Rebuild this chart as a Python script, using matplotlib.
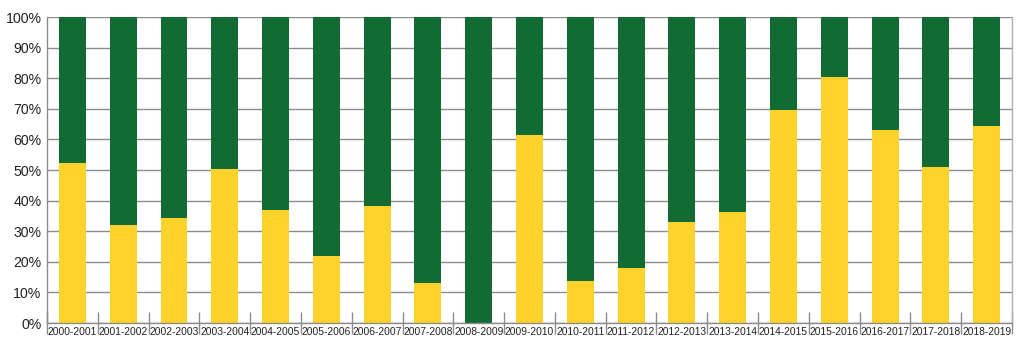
import numpy as np
import matplotlib.pyplot as plt
from matplotlib.ticker import FixedLocator, PercentFormatter

plt.rcParams['font.family'] = ['Liberation Sans', 'DejaVu Sans']

# Seasons and share (%) of the yellow part; green fills up to 100%
seasons = ['2000-2001', '2001-2002', '2002-2003', '2003-2004', '2004-2005',
           '2005-2006', '2006-2007', '2007-2008', '2008-2009', '2009-2010',
           '2010-2011', '2011-2012', '2012-2013', '2013-2014', '2014-2015',
           '2015-2016', '2016-2017', '2017-2018', '2018-2019']
yellow_share = [52.3, 32, 34.2, 50.2, 37, 21.8, 38.2, 13, 0, 61.4,
                13.8, 18, 33, 36.3, 69.5, 80.4, 63, 51, 64.4]
green_share = [100 - v for v in yellow_share]

yellow = '#FDD22A'
green = '#136B34'

fig = plt.figure(figsize=(10.24, 3.55), dpi=100)
ax = fig.add_axes([0.0459, 0.0901, 0.9424, 0.8619])

x = np.arange(len(seasons))
ax.bar(x, yellow_share, width=0.53, color=yellow, zorder=2)
ax.bar(x, green_share, width=0.53, bottom=yellow_share, color=green, zorder=2)

ax.set_xlim(-0.5, len(seasons) - 0.5)
ax.set_ylim(0, 100)
ax.set_yticks(np.arange(0, 101, 10))
ax.yaxis.set_major_formatter(PercentFormatter(decimals=0))
ax.grid(axis='y', color='#8c8c8c', linewidth=1.0, zorder=0)
ax.set_axisbelow(True)

# category labels centred, separators as minor ticks at boundaries
ax.set_xticks(x)
ax.set_xticklabels(seasons, fontsize=7.4, color='#222222')
ax.xaxis.set_minor_locator(FixedLocator(np.arange(-0.5, len(seasons), 1)))
ax.tick_params(axis='x', which='major', length=0, pad=3)
ax.tick_params(axis='x', which='minor', direction='inout', length=16,
               color='#8c8c8c', width=1)
ax.tick_params(axis='y', length=0, labelsize=10.2,
               labelcolor='#222222', pad=4)

for side in ['left', 'bottom', 'right']:
    ax.spines[side].set_color('#8c8c8c')
    ax.spines[side].set_linewidth(1.0)
ax.spines['right'].set_color('#b0b0b0')
ax.spines['top'].set_visible(False)

fig.savefig('out.png', dpi=100, facecolor='white')
